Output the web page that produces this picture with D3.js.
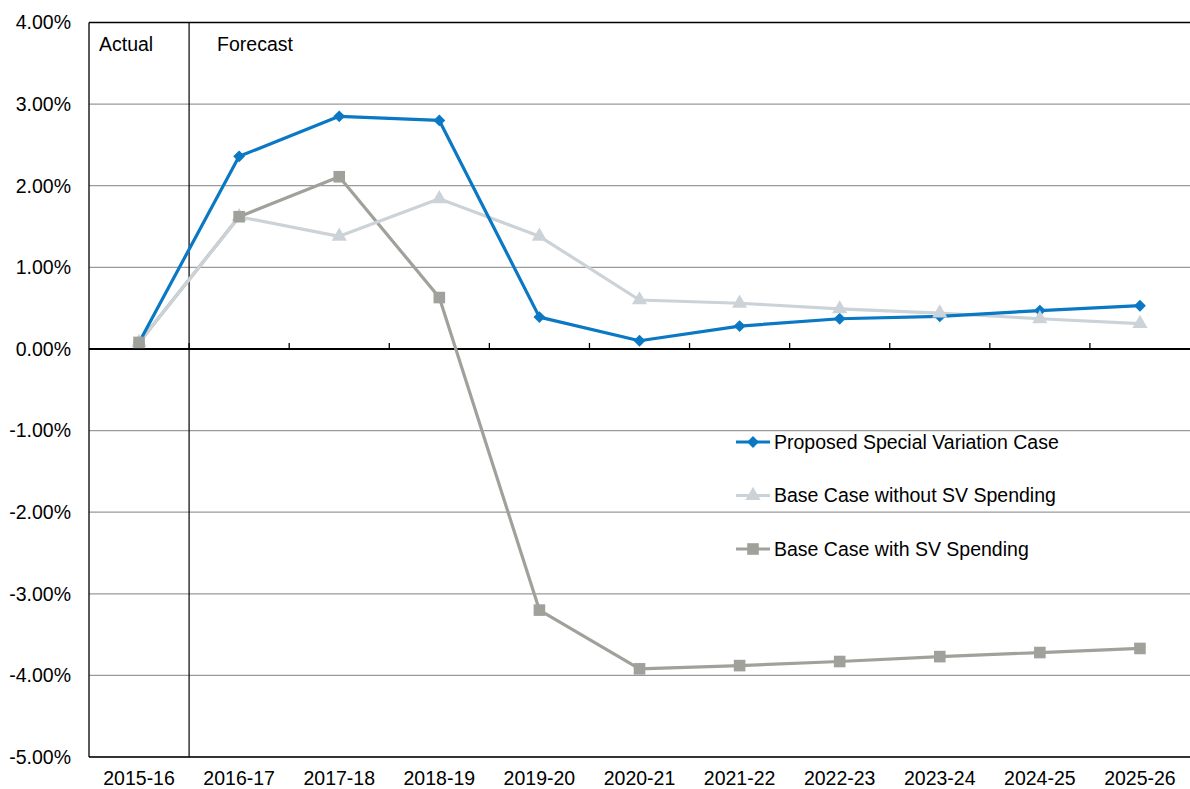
<!DOCTYPE html>
<html>
<head>
<meta charset="utf-8">
<script src="https://cdn.jsdelivr.net/npm/d3@7"></script>
<style>
  body { margin: 0; background: #fff; }
  text { font-family: "Liberation Sans", Arial, sans-serif; fill: #000; }
</style>
</head>
<body>
<div id="vis"></div>
<script>
// ----- DATA ----- //
const years = ["2015-16", "2016-17", "2017-18", "2018-19", "2019-20", "2020-21",
  "2021-22", "2022-23", "2023-24", "2024-25", "2025-26"];
const proposedSV = [0.08, 2.36, 2.85, 2.80, 0.39, 0.10, 0.28, 0.37, 0.40, 0.47, 0.53];
const baseWithoutSV = [0.08, 1.62, 1.38, 1.84, 1.38, 0.60, 0.56, 0.49, 0.44, 0.37, 0.31];
const baseWithSV = [0.08, 1.62, 2.11, 0.63, -3.20, -3.92, -3.88, -3.83, -3.77, -3.72, -3.67];
const yTicks = [4, 3, 2, 1, 0, -1, -2, -3, -4, -5];

const series = [
  { name: "Proposed Special Variation Case", values: proposedSV, color: "#0a78c4", shape: "diamond" },
  { name: "Base Case without SV Spending", values: baseWithoutSV, color: "#cbd3d8", shape: "triangle" },
  { name: "Base Case with SV Spending", values: baseWithSV, color: "#a1a19b", shape: "square" }
];

// ----- SETUP ----- //
let margin = { top: 22.5, right: 0, bottom: 32, left: 89 },
  W = 1190, H = 789,
  width = W - margin.left - margin.right,
  height = H - margin.top - margin.bottom;

const fontSize = "19.5px";

const svg = d3.select("#vis")
  .append("svg")
  .attr("width", W)
  .attr("height", H)
  .append("g")
  .attr("transform", `translate(${margin.left},${margin.top})`);

let x = d3.scaleBand().domain(years).range([0, width]);
let y = d3.scaleLinear().domain([-5, 4]).range([height, 0]);

// gridlines
svg.append("g")
  .selectAll("line")
  .data(yTicks.filter((d) => d !== 0 && d !== -5 && d !== 4))
  .join("line")
  .attr("x1", 0)
  .attr("x2", width)
  .attr("y1", (d) => y(d))
  .attr("y2", (d) => y(d))
  .attr("stroke", "#9a9a9a")
  .attr("stroke-width", 1.3);

// y labels (hyphen minus like the original)
svg.append("g")
  .selectAll("text")
  .data(yTicks)
  .join("text")
  .attr("x", -18)
  .attr("y", (d) => y(d))
  .attr("dy", "0.35em")
  .attr("text-anchor", "end")
  .style("font-size", fontSize)
  .text((d) => d.toFixed(2) + "%");

// x labels
svg.append("g")
  .selectAll("text")
  .data(years)
  .join("text")
  .attr("x", (d) => x(d) + x.bandwidth() / 2)
  .attr("y", height + 21)
  .attr("dy", "0.35em")
  .attr("text-anchor", "middle")
  .style("font-size", fontSize)
  .text((d) => d);

// frame
svg.append("line").attr("x1", 0).attr("x2", width).attr("y1", 0).attr("y2", 0)
  .attr("stroke", "#000").attr("stroke-width", 1.3);
svg.append("line").attr("x1", 0).attr("x2", width).attr("y1", height).attr("y2", height)
  .attr("stroke", "#333").attr("stroke-width", 1.8);
svg.append("line").attr("x1", 0).attr("x2", 0).attr("y1", 0).attr("y2", height)
  .attr("stroke", "#000").attr("stroke-width", 1.3);

// actual / forecast divider
svg.append("line")
  .attr("x1", x(years[1])).attr("x2", x(years[1]))
  .attr("y1", 0).attr("y2", height)
  .attr("stroke", "#000").attr("stroke-width", 1.2);

// zero axis with ticks
svg.append("line").attr("x1", 0).attr("x2", width).attr("y1", y(0)).attr("y2", y(0))
  .attr("stroke", "#000").attr("stroke-width", 2);
svg.append("g")
  .selectAll("line")
  .data(years.slice(1))
  .join("line")
  .attr("x1", (d) => x(d)).attr("x2", (d) => x(d))
  .attr("y1", y(0)).attr("y2", y(0) - 6)
  .attr("stroke", "#000").attr("stroke-width", 1.3);

svg.append("text").attr("x", 10).attr("y", 22).attr("dy", "0.35em")
  .style("font-size", fontSize).text("Actual");
svg.append("text").attr("x", x(years[1]) + 28).attr("y", 22).attr("dy", "0.35em")
  .style("font-size", fontSize).text("Forecast");

// ----- LINES AND MARKERS ----- //
const symbols = {
  diamond: d3.symbol().type(d3.symbolDiamond2).size(90),
  triangle: d3.symbol().type(d3.symbolTriangle).size(100),
  square: d3.symbol().type(d3.symbolSquare).size(135)
};

let line = d3.line()
  .x((d, i) => x(years[i]) + x.bandwidth() / 2)
  .y((d) => y(d));

// lines: blue on top
series.slice().reverse().forEach((s) => {
  svg.append("path")
    .attr("d", line(s.values))
    .attr("fill", "none")
    .attr("stroke", s.color)
    .attr("stroke-width", 3.2)
    .attr("stroke-linejoin", "round");
});

// markers: squares drawn last
series.forEach((s) => {
  svg.append("g")
    .selectAll("path")
    .data(s.values)
    .join("path")
    .attr("d", symbols[s.shape])
    .attr("transform", (d, i) => `translate(${x(years[i]) + x.bandwidth() / 2},${y(d)})`)
    .attr("fill", s.color);
});

// ----- LEGEND ----- //
let legend = svg.append("g").attr("transform", `translate(${736 - margin.left},${442 - margin.top})`);
series.forEach((s, i) => {
  let g = legend.append("g").attr("transform", `translate(0,${i * 53.5})`);
  g.append("line").attr("x1", 0).attr("x2", 34).attr("y1", 0).attr("y2", 0)
    .attr("stroke", s.color).attr("stroke-width", 3.2);
  g.append("path").attr("d", symbols[s.shape]).attr("transform", "translate(17,0)").attr("fill", s.color);
  g.append("text").attr("x", 38).attr("y", 0).attr("dy", "0.35em")
    .style("font-size", fontSize).text(s.name);
});
</script>
</body>
</html>
